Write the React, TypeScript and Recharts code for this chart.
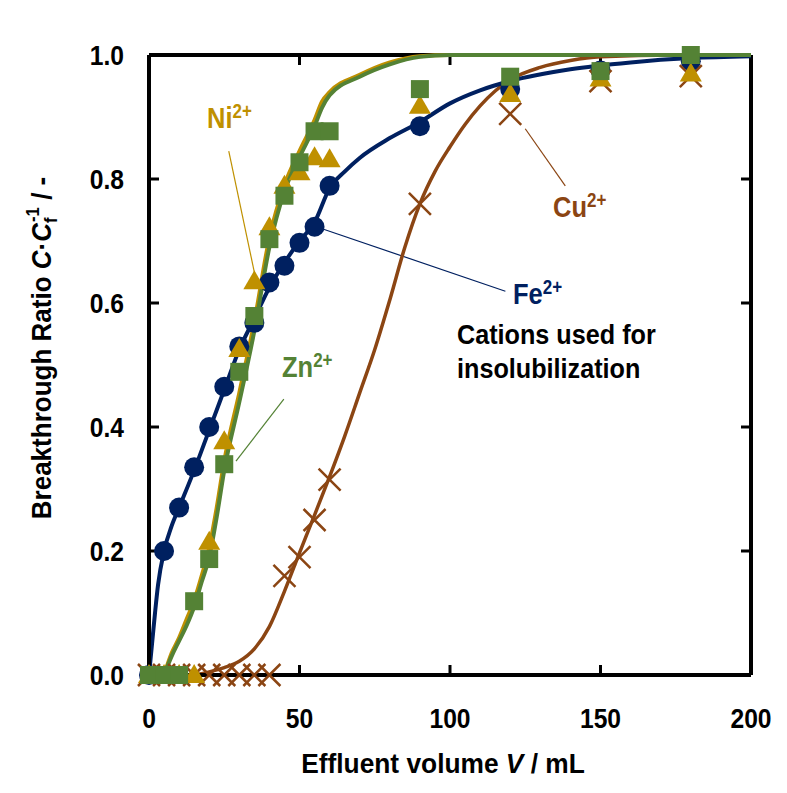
import { ComposedChart, Line, Scatter, XAxis, YAxis, ReferenceLine } from 'recharts';

const FONT = '"Liberation Sans", Arial, sans-serif';

const NAVY = '#002060';
const GOLD = '#BF9000';
const GREEN = '#548235';
const BROWN = '#8B4513';

// measured breakthrough points (effluent volume in mL)
const volumes = [0, 5, 10, 15, 20, 25, 30, 35, 40, 45, 50, 55, 60, 90, 120, 150, 180];
const feRatio = [0, 0.2, 0.27, 0.335, 0.4, 0.465, 0.53, 0.568, 0.633, 0.66, 0.697, 0.723, 0.789, 0.885, 0.945, 0.975, 0.99];
const niRatio = [0, 0, 0, 0, 0.215, 0.377, 0.526, 0.635, 0.722, 0.789, 0.811, 0.835, 0.832, 0.918, 0.937, 0.962, 0.97];
const znRatio = [0, 0, 0, 0.119, 0.187, 0.34, 0.489, 0.579, 0.703, 0.773, 0.827, 0.877, 0.877, 0.945, 0.965, 0.974, 1.0];
const cuRatio = [0, 0, 0, 0, 0, 0, 0, 0, 0, 0.16, 0.19, 0.25, 0.315, 0.76, 0.905, 0.958, 0.966];

// fitted curves
const feFitV = [0, 1, 2, 3, 5, 7.5, 10, 15, 20, 25, 30, 35, 40, 45, 50, 55, 60, 65, 70, 80, 90, 100, 110, 120, 140, 160, 180, 200];
const feFitC = [0, 0.05, 0.1, 0.145, 0.2, 0.24, 0.27, 0.33, 0.395, 0.46, 0.525, 0.575, 0.625, 0.665, 0.7, 0.73, 0.785, 0.812, 0.834, 0.866, 0.892, 0.922, 0.943, 0.958, 0.977, 0.988, 0.995, 0.998];

const niFitV = [5, 7.5, 10, 12.5, 15, 17.5, 20, 22.5, 25, 30, 35, 40, 45, 50, 55, 57.5, 60, 70, 80, 90, 100, 150, 200];
const niFitC = [0, 0.035, 0.06, 0.09, 0.12, 0.16, 0.205, 0.27, 0.345, 0.455, 0.57, 0.705, 0.79, 0.845, 0.895, 0.925, 0.94, 0.968, 0.988, 0.998, 1.0, 1.0, 1.0];

const znFitV = [5, 7.5, 10, 12.5, 15, 17.5, 20, 22.5, 25, 30, 35, 40, 45, 50, 55, 57.5, 60, 70, 80, 90, 100, 150, 200];
const znFitC = [0, 0.03, 0.055, 0.08, 0.11, 0.15, 0.19, 0.255, 0.33, 0.44, 0.555, 0.69, 0.78, 0.835, 0.885, 0.915, 0.935, 0.965, 0.985, 0.997, 1.0, 1.0, 1.0];

const cuFitV = [15, 20, 25, 30, 35, 40, 45, 50, 55, 60, 65, 70, 75, 80, 85, 90, 95, 100, 105, 110, 115, 120, 130, 140, 150, 175, 200];
const cuFitC = [0, 0.005, 0.012, 0.022, 0.042, 0.078, 0.135, 0.197, 0.258, 0.32, 0.385, 0.455, 0.525, 0.605, 0.69, 0.76, 0.812, 0.852, 0.888, 0.918, 0.942, 0.96, 0.98, 0.991, 0.997, 1.0, 1.0];

const xTicks = [0, 50, 100, 150, 200];
const yTicks = [0, 0.2, 0.4, 0.6, 0.8, 1.0];
const innerX = [50, 100, 150];
const innerY = [0.2, 0.4, 0.6, 0.8];

const pts = (xs: number[], ys: number[]) => xs.map((x, i) => ({ x, y: ys[i] }));

const TICK_DY = 10 / 620;
const TICK_DX = 10 / 3.01;

const XTick = (p: any) => (
  <text
    transform={`translate(${p.x} ${p.y + 53}) scale(0.88 1)`}
    textAnchor="middle"
    fontFamily={FONT}
    fontWeight="bold"
    fontSize={28}
    fill="#000"
  >
    {p.payload.value}
  </text>
);

const YTick = (p: any) => (
  <text
    transform={`translate(${p.x - 25} ${p.y + 10}) scale(0.88 1)`}
    textAnchor="end"
    fontFamily={FONT}
    fontWeight="bold"
    fontSize={28}
    fill="#000"
  >
    {Number(p.payload.value).toFixed(1)}
  </text>
);

const Dot = (p: any) => <circle cx={p.cx} cy={p.cy} r={10} fill={NAVY} />;
const Tri = (p: any) => (
  <polygon points={`${p.cx},${p.cy - 11} ${p.cx + 11},${p.cy + 8} ${p.cx - 11},${p.cy + 8}`} fill={GOLD} />
);
const Sq = (p: any) => <rect x={p.cx - 9} y={p.cy - 9} width={18} height={18} fill={GREEN} />;
const Cross = (p: any) => (
  <path
    d={`M${p.cx - 11},${p.cy - 11}L${p.cx + 11},${p.cy + 11}M${p.cx + 11},${p.cy - 11}L${p.cx - 11},${p.cy + 11}`}
    stroke={BROWN}
    strokeWidth={2.5}
    fill="none"
  />
);

const Ion = ({ x, y, color, name }: { x: number; y: number; color: string; name: string }) => (
  <text transform={`translate(${x} ${y}) scale(0.85 1)`} fontSize={30} fill={color}>
    {name}
    <tspan fontSize={20} dy={-10}>2+</tspan>
  </text>
);

export default function App() {
  return (
    <div style={{ position: 'relative', width: 779, height: 785 }}>
      <ComposedChart width={779} height={777} margin={{ top: 47, right: 36, bottom: 50, left: 81 }}>
        <XAxis
          type="number"
          dataKey="x"
          domain={[0, 200]}
          ticks={xTicks}
          height={60}
          tickSize={0}
          tickMargin={0}
          tickLine={false}
          axisLine={{ stroke: '#000', strokeWidth: 4 }}
          tick={XTick}
        />
        <YAxis
          type="number"
          dataKey="y"
          domain={[0, 1]}
          ticks={yTicks}
          width={60}
          tickSize={0}
          tickMargin={0}
          tickLine={false}
          axisLine={{ stroke: '#000', strokeWidth: 4 }}
          tick={YTick}
        />
        <ReferenceLine y={1} stroke="#000" strokeWidth={4} />
        <ReferenceLine x={200} stroke="#000" strokeWidth={4} />
        {innerX.map((v) => (
          <ReferenceLine key={'xb' + v} segment={[{ x: v, y: 0 }, { x: v, y: TICK_DY }]} stroke="#000" strokeWidth={3} />
        ))}
        {innerX.map((v) => (
          <ReferenceLine key={'xt' + v} segment={[{ x: v, y: 1 }, { x: v, y: 1 - TICK_DY }]} stroke="#000" strokeWidth={3} />
        ))}
        {innerY.map((v) => (
          <ReferenceLine key={'yl' + v} segment={[{ x: 0, y: v }, { x: TICK_DX, y: v }]} stroke="#000" strokeWidth={3} />
        ))}
        {innerY.map((v) => (
          <ReferenceLine key={'yr' + v} segment={[{ x: 200, y: v }, { x: 200 - TICK_DX, y: v }]} stroke="#000" strokeWidth={3} />
        ))}

        {/* leader lines from the ion labels */}
        <ReferenceLine segment={[{ x: 26.5, y: 0.845 }, { x: 35.2, y: 0.645 }]} stroke={GOLD} strokeWidth={1.2} />
        <ReferenceLine segment={[{ x: 44.8, y: 0.445 }, { x: 28.9, y: 0.345 }]} stroke={GREEN} strokeWidth={1.2} />
        <ReferenceLine segment={[{ x: 118.4, y: 0.619 }, { x: 58, y: 0.719 }]} stroke={NAVY} strokeWidth={1.2} />
        <ReferenceLine segment={[{ x: 138.3, y: 0.789 }, { x: 125, y: 0.881 }]} stroke={BROWN} strokeWidth={1.2} />

        <Line data={pts(cuFitV, cuFitC)} dataKey="y" type="monotone" stroke={BROWN} strokeWidth={3.5} dot={false} isAnimationActive={false} />
        <Line data={pts(feFitV, feFitC)} dataKey="y" type="monotone" stroke={NAVY} strokeWidth={4} dot={false} isAnimationActive={false} />
        <Line data={pts(niFitV, niFitC)} dataKey="y" type="monotone" stroke={GOLD} strokeWidth={4} dot={false} isAnimationActive={false} />
        <Line data={pts(znFitV, znFitC)} dataKey="y" type="monotone" stroke={GREEN} strokeWidth={4} dot={false} isAnimationActive={false} />

        <Scatter data={pts(volumes, feRatio)} dataKey="y" shape={Dot} isAnimationActive={false} />
        <Scatter data={pts(volumes, cuRatio)} dataKey="y" shape={Cross} isAnimationActive={false} />
        <Scatter data={pts(volumes, niRatio)} dataKey="y" shape={Tri} isAnimationActive={false} />
        <Scatter data={pts(volumes, znRatio)} dataKey="y" shape={Sq} isAnimationActive={false} />
      </ComposedChart>

      <svg width={779} height={785} style={{ position: 'absolute', left: 0, top: 0, pointerEvents: 'none' }}>
        <g fontFamily={FONT} fontWeight="bold">
          <Ion x={199} y={120} color={GOLD} name="Ni" />
          <Ion x={274} y={369} color={GREEN} name="Zn" />
          <Ion x={505} y={296} color={NAVY} name="Fe" />
          <Ion x={545} y={209} color={BROWN} name="Cu" />
          <text transform="translate(449 336) scale(0.9 1)" fontSize={28} fill="#000">Cations used for</text>
          <text transform="translate(449 370) scale(0.9 1)" fontSize={28} fill="#000">insolubilization</text>

          <text transform="translate(435 765) scale(0.94 1)" fontSize={28} fill="#000" textAnchor="middle">
            Effluent volume <tspan fontStyle="italic">V</tspan> / mL
          </text>
          <text transform="translate(43 340) rotate(-90) scale(0.93 1)" fontSize={28} fill="#000" textAnchor="middle">
            Breakthrough Ratio <tspan fontStyle="italic">C</tspan>·<tspan fontStyle="italic">C</tspan>
            <tspan fontSize={18} dy={6}>f</tspan>
            <tspan fontSize={18} dx={-5} dy={-18}>-1</tspan>
            <tspan dy={12}> / -</tspan>
          </text>
        </g>
      </svg>
    </div>
  );
}
